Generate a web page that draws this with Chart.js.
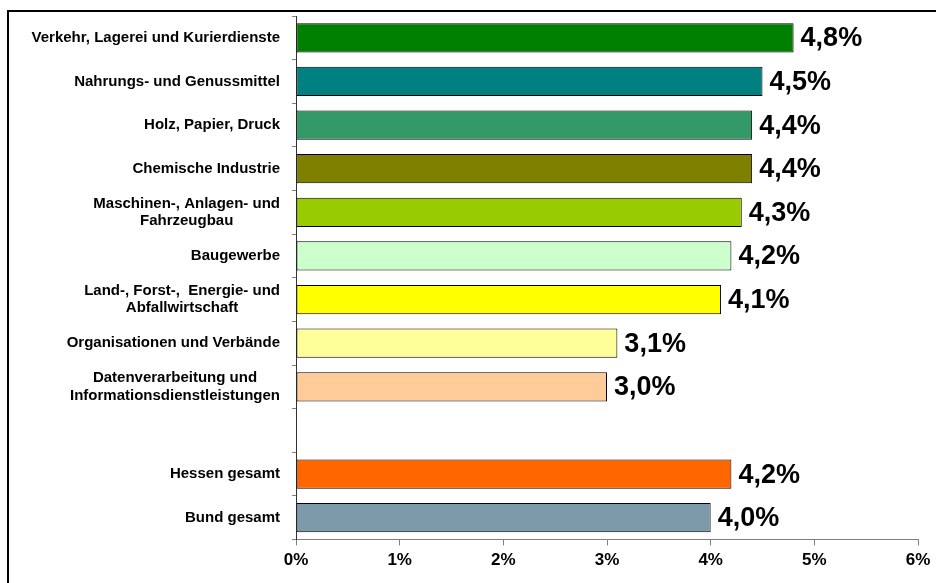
<!DOCTYPE html>
<html lang="de">
<head>
<meta charset="utf-8">
<title>Branchen</title>
<script src="https://cdn.jsdelivr.net/npm/chart.js@4.4.0/dist/chart.umd.min.js"></script>
<style>
    body { margin: 0; background: #fff; }
    canvas { display: block; }
</style>
</head>
<body>
<canvas id="branchenChart" width="936" height="583"></canvas>
<script>
// Kategorien (zweizeilige Beschriftungen als Arrays)
const categories = [
    ['Verkehr, Lagerei und Kurierdienste'],
    ['Nahrungs- und Genussmittel'],
    ['Holz, Papier, Druck'],
    ['Chemische Industrie'],
    ['Maschinen-, Anlagen- und', 'Fahrzeugbau'],
    ['Baugewerbe'],
    ['Land-, Forst-,  Energie- und', 'Abfallwirtschaft'],
    ['Organisationen und Verbände'],
    ['Datenverarbeitung und', 'Informationsdienstleistungen'],
    [''],
    ['Hessen gesamt'],
    ['Bund gesamt']
];
const values = [4.8, 4.5, 4.4, 4.4, 4.3, 4.2, 4.1, 3.1, 3.0, null, 4.2, 4.0];
const barColors = [
    '#008000', '#008080', '#339966', '#808000', '#99cc00', '#ccffcc',
    '#ffff00', '#ffff99', '#ffcc99', '#ffffff', '#ff6600', '#7d9aab'
];
const xTicks = [0, 1, 2, 3, 4, 5, 6];

const FONT = "'Liberation Sans', Arial, sans-serif";

// Rahmen und weisser Hintergrund
const framePlugin = {
    id: 'frame',
    beforeDraw(chart) {
        const ctx = chart.ctx;
        ctx.save();
        ctx.fillStyle = '#fff';
        ctx.fillRect(0, 0, chart.width, chart.height);
        ctx.strokeStyle = '#000';
        ctx.lineWidth = 2;
        ctx.strokeRect(8, 11, chart.width + 10, chart.height + 10);
        ctx.restore();
    }
};

// Kategorie-Beschriftungen: Zeilen zentriert, Block rechtsbuendig
const categoryLabelPlugin = {
    id: 'categoryLabels',
    afterDraw(chart) {
        const ctx = chart.ctx;
        const yScale = chart.scales.y;
        const right = yScale.right - 16;
        const lineHeight = 17.5;
        ctx.save();
        ctx.font = 'bold 15px ' + FONT;
        ctx.fillStyle = '#000';
        ctx.textAlign = 'center';
        ctx.textBaseline = 'middle';
        categories.forEach((lines, i) => {
            const y = yScale.getPixelForValue(i);
            const widest = Math.max(...lines.map(l => ctx.measureText(l).width));
            const cx = right - widest / 2;
            const top = y - (lines.length - 1) * lineHeight / 2;
            lines.forEach((line, j) => {
                ctx.fillText(line, cx, top + j * lineHeight);
            });
        });
        ctx.restore();
    }
};

// Werte rechts neben den Balken
const valueLabelPlugin = {
    id: 'valueLabels',
    afterDatasetsDraw(chart) {
        const ctx = chart.ctx;
        const meta = chart.getDatasetMeta(0);
        ctx.save();
        ctx.font = 'bold 27px ' + FONT;
        ctx.fillStyle = '#000';
        ctx.textAlign = 'left';
        ctx.textBaseline = 'middle';
        meta.data.forEach((bar, i) => {
            if (values[i] === null) return;
            const text = values[i].toFixed(1).replace('.', ',') + '%';
            ctx.fillText(text, bar.x + 7, bar.y + 1);
        });
        ctx.restore();
    }
};

const ctx = document.getElementById('branchenChart').getContext('2d');
new Chart(ctx, {
    type: 'bar',
    data: {
        labels: categories.map(c => c.join(' ')),
        datasets: [{
            data: values,
            backgroundColor: barColors,
            borderColor: '#000',
            borderWidth: 1,
            borderSkipped: false,
            categoryPercentage: 1,
            barPercentage: 0.67
        }]
    },
    options: {
        indexAxis: 'y',
        responsive: false,
        animation: false,
        events: [],
        layout: {
            padding: { top: 16, right: 18, bottom: 0, left: 0 }
        },
        plugins: {
            legend: { display: false },
            tooltip: { enabled: false },
            title: { display: false }
        },
        scales: {
            x: {
                min: 0,
                max: 6,
                afterBuildTicks(scale) {
                    scale.ticks = xTicks.map(v => ({ value: v }));
                },
                afterFit(scale) {
                    scale.height = 43.5;
                },
                grid: {
                    drawOnChartArea: false,
                    color: '#808080',
                    tickLength: 6
                },
                border: { color: '#808080', width: 1 },
                ticks: {
                    padding: 5,
                    color: '#000',
                    font: { family: FONT, size: 17, weight: 'bold' },
                    callback: v => v + '%'
                }
            },
            y: {
                afterFit(scale) {
                    scale.width = 296;
                },
                grid: {
                    drawOnChartArea: false,
                    color: '#808080',
                    tickLength: 4,
                    offset: true
                },
                border: { color: '#333', width: 1 },
                ticks: { display: false }
            }
        }
    },
    plugins: [framePlugin, categoryLabelPlugin, valueLabelPlugin]
});
</script>
</body>
</html>
